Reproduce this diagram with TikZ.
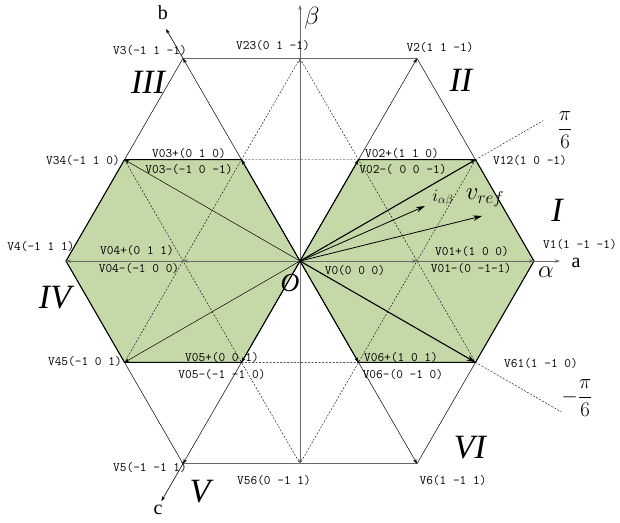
\documentclass[tikz,border=0pt]{standalone}
\usepackage{fontspec}
\setmainfont{Liberation Serif}
\usetikzlibrary{arrows.meta}
\definecolor{sectgreen}{RGB}{197,216,168}
\definecolor{axisgray}{RGB}{105,105,105}
\tikzset{
  vlabel/.style={font=\ttfamily\fontsize{13}{13}\selectfont, inner sep=0pt},
  sector/.style={font=\itshape\fontsize{34}{34}\selectfont, inner sep=0pt},
  axisname/.style={font=\fontsize{20}{20}\selectfont, inner sep=0pt},
  bigtip/.style={>={Stealth[length=9pt,width=5.5pt]}}
}
\begin{document}
\begin{tikzpicture}[x=4.11cm,y=4.11cm,>={Stealth[length=5pt,width=3.5pt]}]
  \useasboundingbox (-2.564,-2.231) rectangle (2.735,2.231);
  % zero, small, medium and large vectors
  \coordinate (V0) at (0,0);
  \foreach \k in {1,...,6} {
    \coordinate (V0\k) at ({60*(\k-1)}:1);
    \coordinate (V\k) at ({60*(\k-1)}:2);
  }
  \foreach \a/\b [count=\k] in {1/2,2/3,3/4,4/5,5/6,6/1}
    \coordinate (V\a\b) at ({60*\k-30}:1.7321);
  \coordinate (aTip) at (2.222,0);
  \coordinate (betaTip) at (0,2.188);
  \coordinate (bTip) at (120:2.29);
  \coordinate (cTip) at (240:2.37);
  \coordinate (iTip) at (1.068,0.470);
  \coordinate (vTip) at (1.556,0.385);
  \coordinate (pTip) at (30:2.4);
  \coordinate (mTip) at (-30:2.58);

  % sectors
  \filldraw[fill=sectgreen,line width=1pt] (V0) -- (V02) -- (V12) -- (V1) -- (V61) -- (V06) -- cycle;
  \filldraw[fill=sectgreen,line width=1pt] (V0) -- (V03) -- (V34) -- (V4) -- (V45) -- (V05) -- cycle;

  \draw[dash pattern=on 2pt off 1.5pt,line width=0.4pt] (V23) -- (V61) (V12) -- (V56)
    (V23) -- (V45) (V34) -- (V56) (V03) -- (V02) (V05) -- (V06)
    (V12) -- (pTip) (V61) -- (mTip);
  \draw[line width=0.5pt] (V6) -- (V1) -- (V2) (V3) -- (V4) -- (V5);
  \draw[axisgray,line width=0.9pt] (V3) -- (V2) (V5) -- (V6);
  \draw[axisgray,line width=0.9pt,->] (V4) -- (aTip);
  \draw[axisgray,line width=0.9pt,->] (V56) -- (betaTip);
  \foreach \v in {V01,V04,V1,V4,V23,V56}
    \draw[axisgray,line width=0.9pt,->] (V0) -- (\v);
  \foreach \v in {V02,V03,V05,V06,V2,V3,V5,V6,V34,V45}
    \draw[line width=0.5pt,->] (V0) -- (\v);
  \draw[line width=1.1pt,->] (V0) -- (V12);
  \draw[line width=1.1pt,bigtip,->] (V0) -- (V61);
  \draw[line width=0.8pt,bigtip,->] (V0) -- (iTip);
  \draw[line width=0.8pt,bigtip,->] (V0) -- (vTip);
  \draw[line width=0.6pt,->] (V3) -- (bTip);
  \draw[line width=0.6pt,->] (V5) -- (cTip);

  % vector names
  \node[vlabel] (tV1) at (2.393,0.14) {V1(1 -1 -1)};
  \node[vlabel] (tV2) at (1.197,1.829) {V2(1 1 -1)};
  \node[vlabel] (tV3) at (-1.282,1.803) {V3(-1 1 -1)};
  \node[vlabel] (tV4) at (-2.214,0.120) {V4(-1 1 1)};
  \node[vlabel] (tV5) at (-1.282,-1.769) {V5(-1 -1 1)};
  \node[vlabel] (tV6) at (1.308,-1.872) {V6(1 -1 1)};
  \node[vlabel] (tV12) at (1.966,0.863) {V12(1 0 -1)};
  \node[vlabel] (tV23) at (-0.231,1.846) {V23(0 1 -1)};
  \node[vlabel] (tV34) at (-1.855,0.863) {V34(-1 1 0)};
  \node[vlabel] (tV45) at (-1.838,-0.855) {V45(-1 0 1)};
  \node[vlabel] (tV56) at (-0.222,-1.872) {V56(0 -1 1)};
  \node[vlabel] (tV61) at (2.060,-0.880) {V61(1 -1 0)};
  \node[vlabel] (tV0) at (0.470,-0.077) {V0(0 0 0)};
  \node[vlabel] (tV01p) at (1.470,0.085) {V01+(1 0 0)};
  \node[vlabel] (tV01m) at (1.462,-0.068) {V01-(0 -1-1)};
  \node[vlabel] (tV02p) at (0.872,0.923) {V02+(1 1 0)};
  \node[vlabel] (tV02m) at (0.880,0.778) {V02-( 0 0 -1)};
  \node[vlabel] (tV03p) at (-0.949,0.923) {V03+(0 1 0)};
  \node[vlabel] (tV03m) at (-0.949,0.778) {V03-(-1 0 -1)};
  \node[vlabel] (tV04p) at (-1.393,0.094) {V04+(0 1 1)};
  \node[vlabel] (tV04m) at (-1.376,-0.060) {V04-(-1 0 0)};
  \node[vlabel] (tV05p) at (-0.667,-0.821) {V05+(0 0 1)};
  \node[vlabel] (tV05m) at (-0.667,-0.966) {V05-(-1 -1 0)};
  \node[vlabel] (tV06p) at (0.863,-0.821) {V06+(1 0 1)};
  \node[vlabel] (tV06m) at (0.880,-0.974) {V06-(0 -1 0)};

  % sectors, axes
  \node[sector] (sI) at (2.197,0.436) {I};
  \node[sector] (sII) at (1.376,1.547) {II};
  \node[sector] (sIII) at (-1.299,1.530) {III};
  \node[sector] (sIV) at (-2.094,-0.316) {IV};
  \node[sector] (sV) at (-0.855,-1.974) {V};
  \node[sector] (sVI) at (1.453,-1.598) {VI};
  \node[axisname] (la) at (2.36,-0.02) {a};
  \node[axisname] (lb) at (-1.171,2.120) {b};
  \node[axisname] (lc) at (-1.214,-2.128) {c};
  \node[inner sep=0pt,font=\fontsize{34}{34}\selectfont] (lalpha) at (2.103,-0.094) {$\alpha$};
  \node[inner sep=0pt,font=\fontsize{29}{29}\selectfont] (lbeta) at (0.103,2.077) {$\beta$};
  \node[inner sep=0pt,font=\itshape\fontsize{26}{26}\selectfont] (lO) at (-0.085,-0.188) {O};
  \node[inner sep=0pt,font=\fontsize{18}{18}\selectfont] (li) at (1.222,0.538) {$i_{\alpha\beta}$};
  \node[inner sep=0pt,font=\fontsize{24}{24}\selectfont] (lv) at (1.581,0.538) {$v_{ref}$};
  \node[inner sep=0pt,font=\fontsize{20}{20}\selectfont] (lp) at (2.265,1.120) {$\displaystyle\frac{\pi}{6}$};
  \node[inner sep=0pt,font=\fontsize{20}{20}\selectfont] (lm) at (2.368,-1.171) {$\displaystyle-\frac{\pi}{6}$};
\end{tikzpicture}
\end{document}
